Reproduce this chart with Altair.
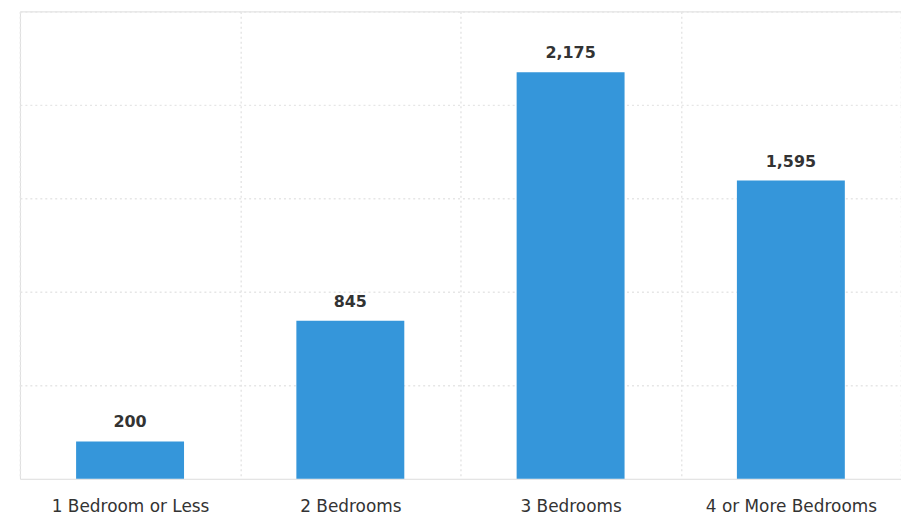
import altair as alt
import pandas as pd

categories = ["1 Bedroom or Less", "2 Bedrooms", "3 Bedrooms", "4 or More Bedrooms"]
values = [200, 845, 2175, 1595]

df = pd.DataFrame({"category": categories, "value": values})

W, H = 886, 470
FONT = "DejaVu Sans"
GRID = "#e6e6e6"

x = alt.X(
    "category:N",
    sort=categories,
    scale=alt.Scale(paddingInner=0, paddingOuter=0),
    axis=alt.Axis(
        title=None, labelAngle=0, ticks=False, domain=False,
        labelPadding=20, labelFontSize=17, labelColor="#333333", labelFont=FONT,
        grid=True, tickBand="extent", gridColor=GRID, gridDash=[2, 3], gridWidth=1.5,
    ),
)
y = alt.Y(
    "value:Q",
    scale=alt.Scale(domain=[0, 2500], nice=False),
    axis=alt.Axis(
        title=None, labels=False, ticks=False, domain=False,
        values=[500, 1000, 1500, 2000, 2500],
        grid=True, gridColor=GRID, gridDash=[2, 3], gridWidth=1.5,
    ),
)

base = alt.Chart(df).encode(x=x, y=y)
bars = base.mark_bar(color="#3596DA", width=alt.RelativeBandSize(0.49))
labels = base.mark_text(
    dy=-14, baseline="alphabetic", fontSize=16, fontWeight="bold", color="#333333", font=FONT
).encode(text=alt.Text("value:Q", format=","))

chart = (
    alt.layer(bars, labels)
    .properties(width=W, height=H, padding={"left": 12, "top": 2, "right": 0, "bottom": 0})
    .configure_view(stroke=None)
    .configure(background="white")
)

chart.save("out.html", embed_options={"renderer": "svg", "actions": False})
